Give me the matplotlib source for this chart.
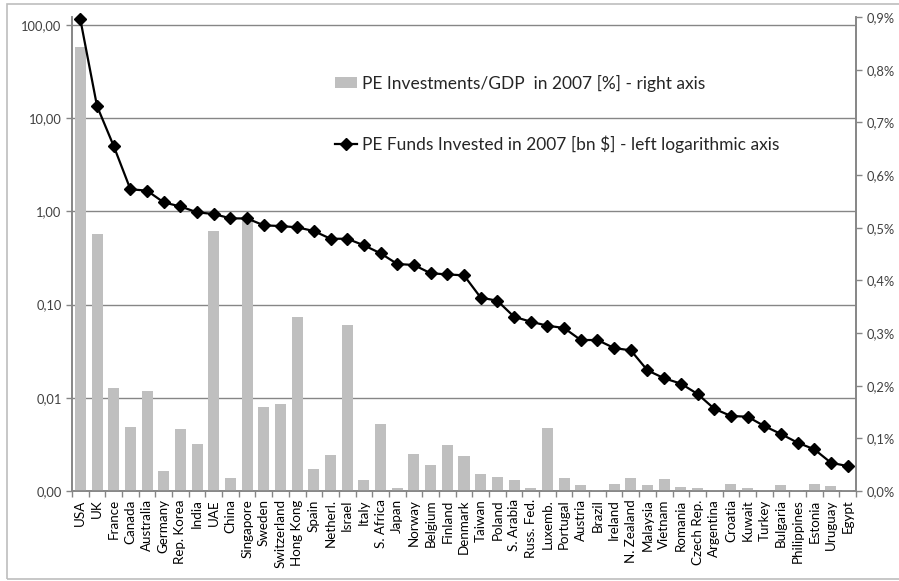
import matplotlib
matplotlib.use("Agg")
import matplotlib.pyplot as plt
import numpy as np
from matplotlib.lines import Line2D
from matplotlib.patches import Patch, Rectangle
from matplotlib.ticker import FixedLocator, FuncFormatter

plt.rcParams['font.family'] = ['Lato', 'DejaVu Sans']

countries = ['USA', 'UK', 'France', 'Canada', 'Australia', 'Germany', 'Rep. Korea',
             'India', 'UAE', 'China', 'Singapore', 'Sweden', 'Switzerland', 'Hong Kong',
             'Spain', 'Netherl.', 'Israel', 'Italy', 'S. Africa', 'Japan', 'Norway',
             'Belgium', 'Finland', 'Denmark', 'Taiwan', 'Poland', 'S. Arabia',
             'Russ. Fed.', 'Luxemb.', 'Portugal', 'Austria', 'Brazil', 'Ireland',
             'N. Zealand', 'Malaysia', 'Vietnam', 'Romania', 'Czech Rep.', 'Argentina',
             'Croatia', 'Kuwait', 'Turkey', 'Bulgaria', 'Philippines', 'Estonia',
             'Uruguay', 'Egypt']

# PE investments as share of GDP, 2007 [%]
pe_gdp_pct = [0.843, 0.488, 0.195, 0.121, 0.189, 0.038, 0.118,
              0.089, 0.494, 0.025, 0.515, 0.159, 0.165, 0.330,
              0.042, 0.068, 0.315, 0.020, 0.127, 0.006, 0.070,
              0.049, 0.087, 0.066, 0.032, 0.027, 0.020,
              0.006, 0.120, 0.025, 0.011, 0.001, 0.013,
              0.025, 0.011, 0.023, 0.008, 0.006, 0.001,
              0.013, 0.006, 0.002, 0.011, 0.001, 0.013,
              0.009, 0.001]

# PE funds invested in 2007 [bn $]
pe_funds_bn = [115.0, 13.5, 5.03, 1.73, 1.67, 1.25, 1.13,
               0.978, 0.938, 0.843, 0.84, 0.709, 0.697, 0.675,
               0.616, 0.509, 0.509, 0.433, 0.355, 0.273, 0.266,
               0.217, 0.211, 0.206, 0.119, 0.110, 0.0741,
               0.0656, 0.0594, 0.0561, 0.0417, 0.0417, 0.0342,
               0.0323, 0.0197, 0.0162, 0.0142, 0.0110, 0.00764,
               0.00638, 0.00627, 0.00498, 0.00409, 0.00330, 0.0028,
               0.00201, 0.00185]

left_ticks = [0.001, 0.01, 0.1, 1, 10, 100]
right_ticks = [0.0, 0.1, 0.2, 0.3, 0.4, 0.5, 0.6, 0.7, 0.8, 0.9]

axis_grey = '#868686'
label_grey = '#404040'

fig = plt.figure(figsize=(8.99, 5.81), dpi=100)
fig.patches.append(Rectangle((7 / 899, 2 / 581), 0.999, 575 / 581, transform=fig.transFigure,
                             fill=False, edgecolor='#BDBDBD', linewidth=1.2))

ax = fig.add_axes([72 / 899, 90 / 581, 784 / 899, 474 / 581])
x = np.arange(len(countries))

# left log axis: gridlines and tick labels
ax.set_yscale('log')
ax.set_ylim(0.001, 122)
ax.set_xlim(-0.5, len(countries) - 0.5)
ax.yaxis.set_major_locator(FixedLocator(left_ticks))
ax.yaxis.set_minor_locator(FixedLocator([]))
ax.yaxis.set_major_formatter(FuncFormatter(lambda v, p: f"{v:.2f}".replace('.', ',')))
ax.grid(axis='y', color=axis_grey, linewidth=1.0)
ax.set_axisbelow(True)

# right linear axis with the bars
ax2 = ax.twinx()
ax2.bar(x, pe_gdp_pct, width=0.66, color='#BFBFBF', zorder=2)
ax2.set_ylim(0, 0.9)
ax2.yaxis.set_major_locator(FixedLocator(right_ticks))
ax2.yaxis.set_major_formatter(FuncFormatter(lambda v, p: f"{v:.1f}%".replace('.', ',')))

# line drawn in left-axis coordinates on top of the bars
ax2.plot(x, pe_funds_bn, transform=ax.transData, color='black', linewidth=1.6,
         marker='D', markersize=6, zorder=3, clip_on=False)

for a in (ax, ax2):
    for s in a.spines.values():
        s.set_color(axis_grey)
        s.set_linewidth(1.2)
    a.spines['top'].set_visible(False)
    a.tick_params(axis='y', colors=axis_grey, labelcolor=label_grey, labelsize=9.3,
                  length=4, width=1)

ax.set_xticks(x)
ax.set_xticklabels(countries, rotation=90, fontsize=9.6, color='black')
ax.set_xticks(np.arange(len(countries) + 1) - 0.5, minor=True)
ax.tick_params(axis='x', which='major', length=0, pad=6)
ax.tick_params(axis='x', which='minor', length=4, width=1, colors=axis_grey)

handles = [Patch(facecolor='#BFBFBF', edgecolor='none'),
           Line2D([], [], color='black', linewidth=1.6, marker='D', markersize=6)]
labels = ['PE Investments/GDP  in 2007 [%] - right axis',
          'PE Funds Invested in 2007 [bn $] - left logarithmic axis']
leg = ax2.legend(handles, labels, loc='upper left', bbox_to_anchor=(326 / 899, 1 - 66 / 581),
                 bbox_transform=fig.transFigure, frameon=False, fontsize=12.5,
                 handlelength=1.3, handleheight=0.6, handletextpad=0.25, labelspacing=2.5,
                 borderpad=0)
for t in leg.get_texts():
    t.set_color('#262626')

fig.savefig('out.png', dpi=100)
